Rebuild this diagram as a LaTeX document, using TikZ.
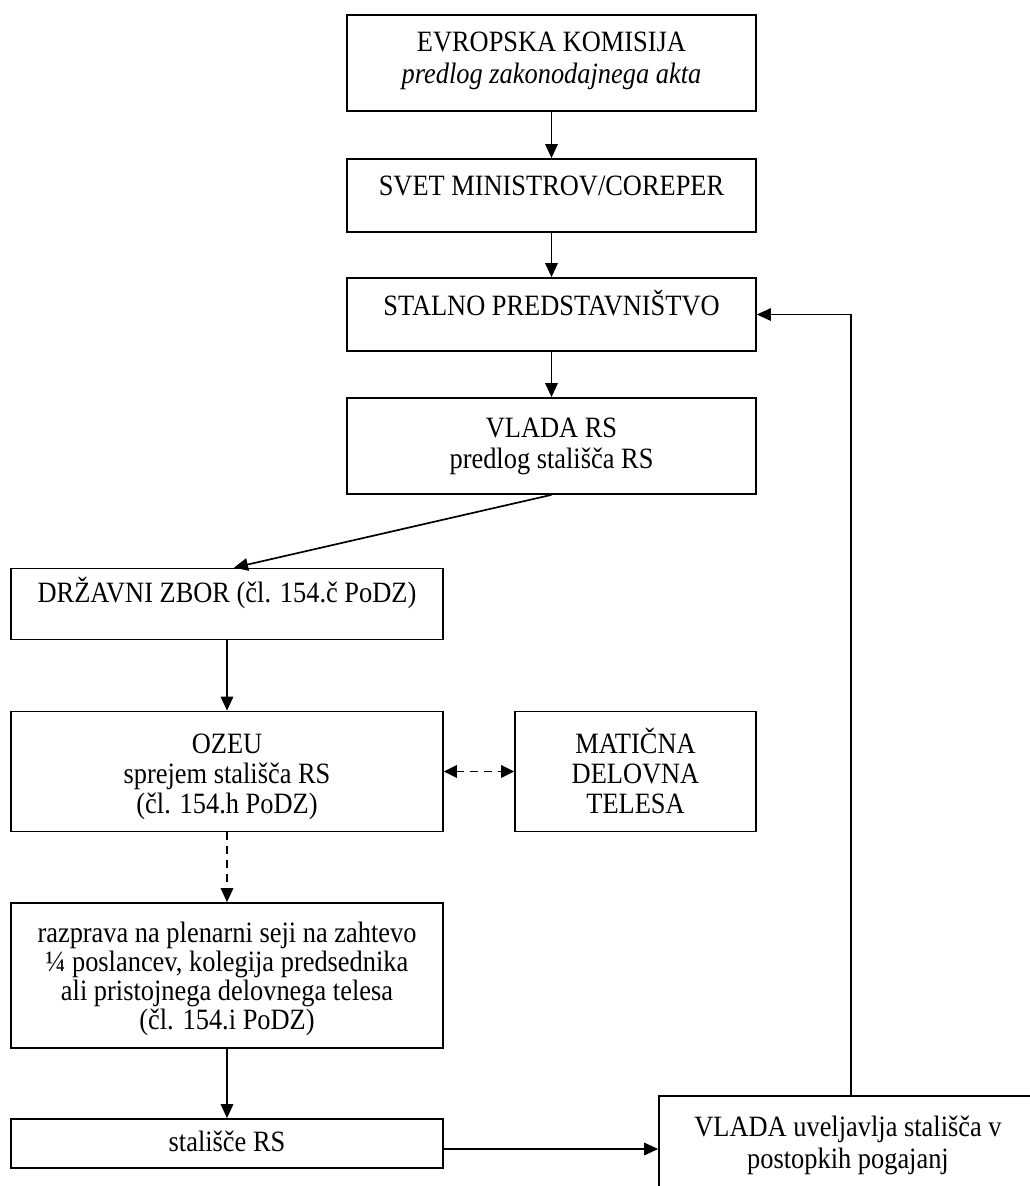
\documentclass[tikz,border=0pt]{standalone}
\usepackage{fontspec}
\setmainfont{Liberation Serif}[FakeStretch=0.895]
\usetikzlibrary{arrows.meta,calc}
\newcommand{\mlines}[1]{\begin{tabular}[t]{@{}c@{}}#1\end{tabular}}
\begin{document}
\begin{tikzpicture}[x=1pt,y=-1pt,
  box/.style={draw, line width=1.7pt, inner sep=0pt},
  txt/.style={anchor=base, align=center, inner sep=0pt, font=\fontsize{29.5}{30}\selectfont},
  arr/.style={-{Triangle[length=14pt,width=12.5pt]}, line width=1.7pt},
  darr/.style={{Triangle[length=13pt,width=12.5pt]}-{Triangle[length=13pt,width=12.5pt]}, line width=1.7pt, dash pattern=on 8pt off 6pt},
  dashedarr/.style={arr, dash pattern=on 8pt off 6pt}]
\useasboundingbox (0,0) rectangle (1030,1186);
\clip (0,0) rectangle (1030,1186);
\fill[white] (0,0) rectangle (1030,1186);
% boxes
\node[box, minimum width=409pt, minimum height=96pt] (ek) at (551.5,63) {};
\node[box, minimum width=409pt, minimum height=73pt] (svet) at (551.5,195.5) {};
\node[box, minimum width=409pt, minimum height=73pt] (stalno) at (551.5,314.5) {};
\node[box, minimum width=409pt, minimum height=96pt] (vlada) at (551.5,446) {};
\node[box, minimum width=432pt, minimum height=71pt] (dz) at (227,604) {};
\node[box, minimum width=432pt, minimum height=120pt] (ozeu) at (227,771.5) {};
\node[box, minimum width=241pt, minimum height=120pt] (mat) at (635.5,771.5) {};
\node[box, minimum width=432pt, minimum height=145pt] (raz) at (227,975.5) {};
\node[box, minimum width=432pt, minimum height=49pt] (sta) at (227,1143.5) {};
\node[box, minimum width=378pt, minimum height=102pt] (vu) at (848,1147) {};
% texts
\node[txt, font=\fontsize{29.5}{32}\selectfont] (ekt) at (551.5,51) {\mlines{EVROPSKA KOMISIJA\\\textit{predlog zakonodajnega akta}}};
\node[txt] (svett) at (551.5,195) {SVET MINISTROV/COREPER};
\node[txt] (stalnot) at (551.5,315) {STALNO PREDSTAVNIŠTVO};
\node[txt, font=\fontsize{29.5}{31}\selectfont] (vladat) at (551.5,437) {\mlines{VLADA RS\\predlog stališča RS}};
\node[txt] (dzt) at (227,602.5) {DRŽAVNI ZBOR (čl. 154.č PoDZ)};
\node[txt] (ozeut) at (227,753) {\mlines{OZEU\\sprejem stališča RS\\(čl. 154.h PoDZ)}};
\node[txt] (matt) at (635.5,753) {\mlines{MATIČNA\\DELOVNA\\TELESA}};
\node[txt, font=\fontsize{29.5}{28.7}\selectfont] (razt) at (227,942) {\mlines{razprava na plenarni seji na zahtevo\\¼ poslancev, kolegija predsednika\\ali pristojnega delovnega telesa\\(čl. 154.i PoDZ)}};
\node[txt] (stat) at (227,1151) {stališče RS};
\node[txt, font=\fontsize{29.5}{32}\selectfont] (vut) at (848,1136) {\mlines{VLADA uveljavlja stališča v\\postopkih pogajanj}};
% connectors
\draw[arr] (ek.south) -- (svet.north);
\draw[arr] (svet.south) -- (stalno.north);
\draw[arr] (stalno.south) -- (vlada.north);
\draw[arr] (vlada.south) -- ([xshift=7pt]dz.north);
\draw[arr] (dz.south) -- (ozeu.north);
\draw[dashedarr] (ozeu.south) -- (raz.north);
\draw[darr] (ozeu.east) -- (mat.west);
\draw[arr] (raz.south) -- (sta.north);
\coordinate (sa) at ($(sta.east)+(0,5.5)$);
\draw[arr] (sa) -- (sa -| vu.west);
\coordinate (vt) at ($(vu.north west)+(193,0)$);
\draw[arr] (vt) |- (stalno.east);
\end{tikzpicture}
\end{document}
